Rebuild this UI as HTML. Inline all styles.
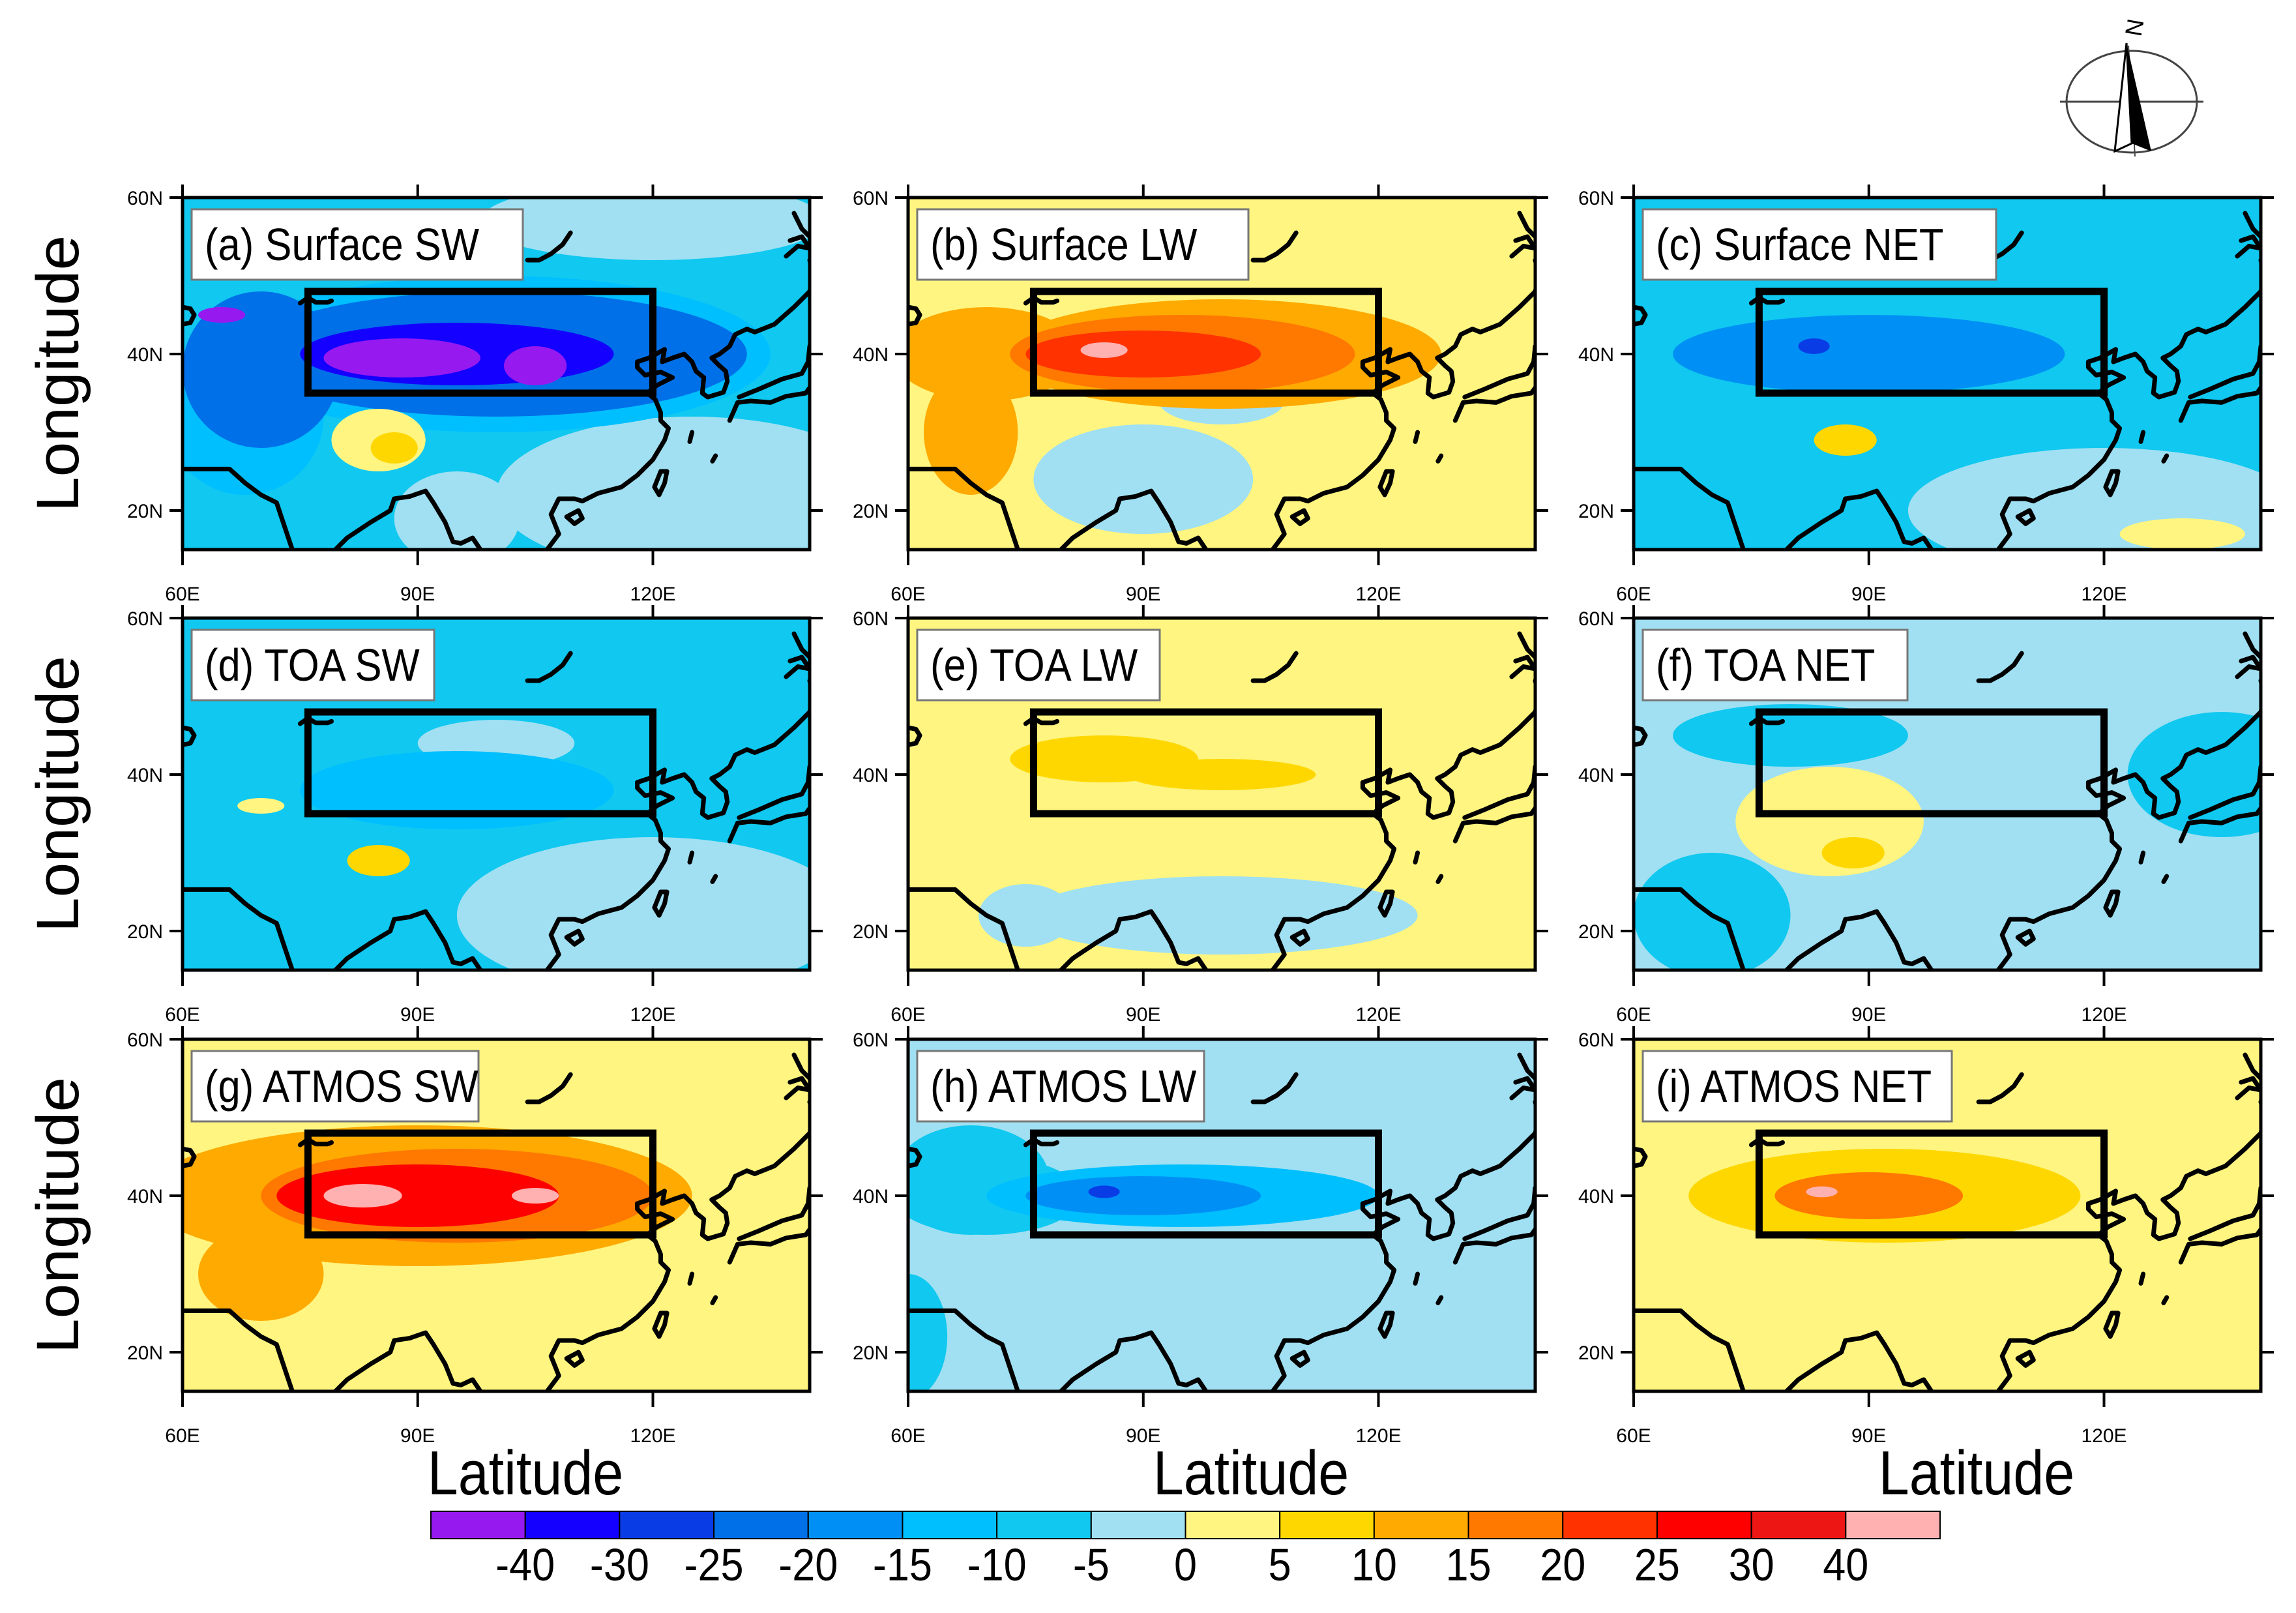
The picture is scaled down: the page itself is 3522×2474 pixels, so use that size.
<!DOCTYPE html>
<html><head><meta charset="utf-8"><style>
html,body{margin:0;padding:0;background:#fff}
svg{display:block}
text{font-family:"Liberation Sans",sans-serif}
</style></head><body>
<svg id="fig" width="3522" height="2474" viewBox="0 0 3522 2474" xmlns="http://www.w3.org/2000/svg"></svg>
<script>
const levels=[-40,-30,-25,-20,-15,-10,-5,0,5,10,15,20,25,30,40];
const colors=["#9619F0","#1400FF","#0A3CE6","#0070E8","#0090F5","#00BFFF","#10C8F0","#A0E0F2","#FFF580","#FFD700","#FFAA00","#FF7800","#FF3200","#FF0000","#EE1515","#FFB0B0"];
const panelTitles=["(a) Surface SW","(b) Surface LW","(c) Surface NET","(d) TOA SW","(e) TOA LW","(f) TOA NET","(g) ATMOS SW","(h) ATMOS LW","(i) ATMOS NET"];
const panelBackground=[-8,3,-8,-8,3,-3,3,-3,3];
// blobs: [lon, lat, rx(deg), ry(deg), value]
const panelA=[[120,57,22,5,-3],[125,22,25,10,-3],[95,19,8,6,-3],[68,32,10,10,-12],[100,40,35,10,-12],[100,40,32,8,-22],[70,38,10,10,-22],[95,40,20,4,-35],[88,39.5,10,2.5,-45],[105,38.5,4,2.5,-45],[65,45,3,1,-45],[85,29,6,4,3],[87,28,3,2,8]];
const panelB=[[90,24,14,7,-3],[100,34,8,3,-3],[70,40,12,6,12],[100,40,28,7,12],[95,40,22,5,17],[90,40,15,3,22],[85,40.5,3,1,45],[68,30,6,8,12]];
const panelC=[[120,20,25,8,-3],[90,40,25,5,-18],[83,41,2,1,-28],[87,29,4,2,5],[130,17,8,2,3]];
const panelD=[[120,22,25,10,-3],[100,44,10,3,-3],[95,38,20,5,-12],[85,29,4,2,6],[70,36,3,1,3]];
const panelE=[[100,22,25,5,-3],[75,22,6,4,-3],[85,42,12,3,7],[100,40,12,2,7]];
const panelF=[[70,22,10,8,-8],[135,40,12,8,-8],[80,45,15,4,-8],[85,34,12,7,2],[88,30,4,2,6]];
const panelG=[[90,40,35,9,12],[95,40,25,6,18],[90,40,18,4,27],[83,40,5,1.5,45],[105,40,3,1,45],[70,30,8,6,10]];
const panelH=[[60,22,5,8,-8],[68,42,10,7,-8],[70,40,12,5,-8],[95,40,25,4,-12],[90,40,15,2.5,-18],[85,40.5,2,0.8,-28]];
const panelI=[[92,40,25,6,8],[90,40,12,3,15],[84,40.5,2,0.7,40]];
const panelBlobs=[panelA,panelB,panelC,panelD,panelE,panelF,panelG,panelH,panelI];
const cbLabels=["-40","-30","-25","-20","-15","-10","-5","0","5","10","15","20","25","30","40"];
const coasts=[
 [[60,25.3],[66,25.3],[68,23.5],[70,22],[72,21],[73,18],[74,15]],
 [[79.5,15],[81,16.5],[84,18.5],[86.5,20],[87,21.5],[89,21.8],[91,22.5],[92,21],[93.5,18.5],[94.5,16],[95.5,15.8],[97,16.5],[98,15]],
 [[106.5,15],[108,17],[107,19.5],[108,21.5],[110,21.5],[111,21.2],[113,22.2],[116,23],[118,24.5],[120,26.5],[121.5,29],[122,30.5],[121,31.5],[121,32.5],[120.3,34.2],[119.3,35],[120.5,36],[122.5,37],[121,37.7],[119,37.3],[118,38.3],[118,39],[119.5,39.5],[121.5,40.6],[121.2,39],[122.5,39.5],[124,40],[125,39],[125.5,37.8],[126.5,37],[126.3,35],[127,34.5],[129,35.1],[129.5,36.5],[129.3,37.8],[128.5,38.5],[127.5,39.5],[128.5,40],[129.8,41],[130.5,42.5],[132,43.2],[133,42.8],[135.5,43.8],[138,46],[140,48],[140.5,50],[140,52]],
 [[109,19.2],[110.5,20],[111,19],[110,18.3],[109,19.2]],
 [[120.8,22],[121.5,23.5],[121.8,25],[121,25],[120.2,23],[120.8,22]],
 [[129.8,31.5],[130.8,33.8],[132.5,34],[135,33.8],[137,34.6],[139.5,35],[140.8,36.8],[141,38.5],[141.5,40.5],[140,41],[139.8,39],[139,37.5],[136.5,36.8],[133.5,35.5],[131,34.5]],
 [[125,30],[124.7,28.8]],[[128,27],[127.6,26.3]],
 [[137,52.5],[138.5,53.8],[140,53.5],[139,55],[137.5,54.5]],
 [[141.5,55],[142.5,53],[142,51]],
 [[104,52],[105.5,52],[107,52.8],[108.5,54],[109.5,55.5]],
 [[75,46.5],[76,47.2],[77,46.6],[78.5,46.6],[79,46.8]],
 [[60,46],[61,45.8],[61.5,45],[61,44],[60,43.8]],
 [[138,58],[139,56],[140,55]]
];
const NS="http://www.w3.org/2000/svg";
const svg=document.getElementById('fig');
function mk(tag,attrs,parent){const e=document.createElementNS(NS,tag);for(const k in attrs)e.setAttribute(k,attrs[k]);(parent||svg).appendChild(e);return e;}
function colorFor(v){let i=0;while(i<levels.length&&v>=levels[i])i++;return colors[i];}
const colX=[280,1393,2506],rowY=[303,948,1594],PW=962,PH=540;
svg.innerHTML='<defs></defs>';
for(let p=0;p<9;p++){
 const px=colX[p%3],py=rowY[Math.floor(p/3)];
 const X=lon=>px+(lon-60)*PW/80,Y=lat=>py+(60-lat)*PH/45;
 const sx=PW/80,sy=PH/45;
 const g=mk('g',{});
 
 
 const cp=mk('clipPath',{id:'clip'+p},svg.querySelector('defs'));
 mk('rect',{x:px,y:py,width:PW,height:PH},cp);
 const field=mk('g',{'clip-path':'url(#clip'+p+')'},g);
 const bg=mk('rect',{x:px,y:py,width:PW,height:PH,fill:colorFor(panelBackground[p])},field);
 
 
 panelBlobs[p].forEach(b=>{
  const e=mk('ellipse',{cx:X(b[0]),cy:Y(b[1]),rx:b[2]*sx,ry:b[3]*sy,fill:colorFor(b[4])},field);
  
  
 });
 coasts.forEach(c=>{
  const d='M'+c.map(q=>X(q[0]).toFixed(1)+','+Y(q[1]).toFixed(1)).join('L');
  const l=mk('path',{d:d,fill:'none',stroke:'#000','stroke-width':7,'stroke-linejoin':'round','stroke-linecap':'round'},field);
  
  
 });
 const box=mk('rect',{x:X(76),y:Y(48),width:X(120)-X(76),height:Y(35)-Y(48),fill:'none',stroke:'#000','stroke-width':11},field);
 
 
 const fr=mk('rect',{x:px,y:py,width:PW,height:PH,fill:'none',stroke:'#000','stroke-width':5},g);
 
 
 [60,90,120].forEach(lon=>{
  mk('line',{x1:X(lon),x2:X(lon),y1:py-20,y2:py,stroke:'#000','stroke-width':4},g);
  mk('line',{x1:X(lon),x2:X(lon),y1:py+PH,y2:py+PH+24,stroke:'#000','stroke-width':4},g);
  const t=mk('text',{x:X(lon),y:py+PH+78,'font-size':30,'text-anchor':'middle'},g);
  t.textContent=lon+'E';
  
  
 });
 [60,40,20].forEach(lat=>{
  mk('line',{x1:px-20,x2:px,y1:Y(lat),y2:Y(lat),stroke:'#000','stroke-width':4},g);
  mk('line',{x1:px+PW,x2:px+PW+20,y1:Y(lat),y2:Y(lat),stroke:'#000','stroke-width':4},g);
  const t=mk('text',{x:px-30,y:Y(lat)+11,'font-size':30,'text-anchor':'end'},g);
  t.textContent=lat+'N';
  
  
 });
 const lb=mk('rect',{x:px+14,y:py+18,width:panelTitles[p].length*34+32,height:108,fill:'#fff',stroke:'#777','stroke-width':3},g);
 
 
 const tt=mk('text',{x:0,y:0,'font-size':70,transform:'translate('+(px+34)+','+(py+96)+') scale(0.88,1)'},g);
 tt.textContent=panelTitles[p];
 
 
 if(p%3===0){
  const yl=mk('text',{x:0,y:0,'font-size':92,'text-anchor':'middle',transform:'translate(120,'+(py+PH/2)+') rotate(-90) scale(1.05,1)'});
  yl.textContent='Longitude';
  
  
 }
 if(p>=6){
  const xl=mk('text',{x:0,y:0,'font-size':96,'text-anchor':'middle',transform:'translate('+(px+526)+',2292) scale(0.88,1)'});
  xl.textContent='Latitude';
  
  
 }
}
const cbx=661,cbw=2315,cby=2318,cbh=42,n=colors.length,cw=cbw/n;
colors.forEach((c,i)=>{
 const r=mk('rect',{x:cbx+i*cw,y:cby,width:cw,height:cbh,fill:c,stroke:'#000','stroke-width':2});
 
 
});
cbLabels.forEach((s,i)=>{
 const t=mk('text',{x:0,y:0,'font-size':70,'text-anchor':'middle',transform:'translate('+(cbx+(i+1)*cw)+',2424) scale(0.9,1)'});
 t.textContent=s;
 
 
});
const cg=mk('g',{});


mk('ellipse',{cx:3270,cy:156,rx:100,ry:78,fill:'none',stroke:'#444','stroke-width':3},cg);
mk('line',{x1:3160,x2:3380,y1:156,y2:156,stroke:'#444','stroke-width':3},cg);
mk('line',{x1:3265,x2:3275,y1:70,y2:240,stroke:'#444','stroke-width':2},cg);
mk('polygon',{points:'3262,66 3244,232 3270,220',fill:'#fff',stroke:'#000','stroke-width':3},cg);
mk('polygon',{points:'3262,66 3270,220 3300,232',fill:'#000'},cg);
const nt=mk('text',{x:0,y:0,'font-size':36,'text-anchor':'middle','font-family':'Liberation Serif',transform:'translate(3262,40) rotate(100)'},cg);
nt.textContent='N';
</script>
</body></html>
